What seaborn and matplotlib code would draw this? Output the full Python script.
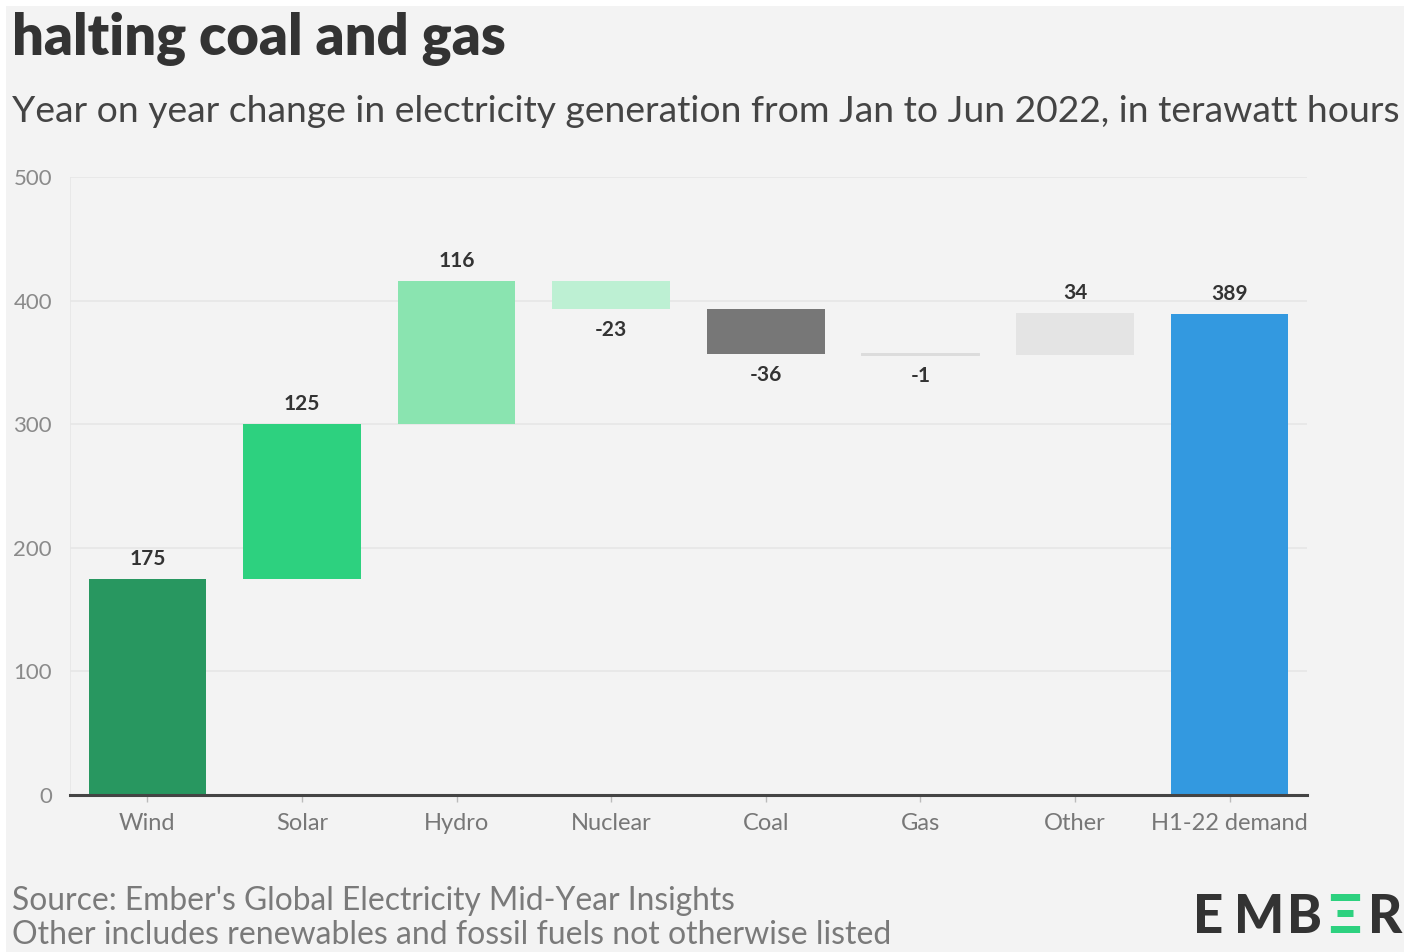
import matplotlib
matplotlib.use("Agg")
import matplotlib.pyplot as plt
import seaborn as sns
import pandas as pd
import numpy as np
from matplotlib.patches import Rectangle

categories = ["Wind", "Solar", "Hydro", "Nuclear", "Coal", "Gas", "Other", "H1-22 demand"]
changes = [175, 125, 116, -23, -36, -1, 34, 389]
is_total = [False, False, False, False, False, False, False, True]
bar_colors = ["#289760", "#2dd17f", "#8ae4b0", "#bdf0d3", "#777777", "#dcdcdc", "#e4e4e4", "#3399e0"]
y_ticks = [0, 100, 200, 300, 400, 500]

title = "halting coal and gas"
subtitle = "Year on year change in electricity generation from Jan to Jun 2022, in terawatt hours"
source1 = "Source: Ember's Global Electricity Mid-Year Insights"
source2 = "Other includes renewables and fossil fuels not otherwise listed"

# waterfall geometry from the values
bottoms, heights = [], []
run = 0
for v, tot in zip(changes, is_total):
    if tot:
        bottoms.append(0); heights.append(v)
    else:
        if v >= 0:
            bottoms.append(run); heights.append(v)
        else:
            bottoms.append(run + v); heights.append(-v)
        run += v
df = pd.DataFrame({"cat": categories, "height": heights, "bottom": bottoms})

W, H = 1404, 952
BG = "#f3f3f3"
sns.set_theme(style="white")
plt.rcParams["font.family"] = ["Lato", "DejaVu Sans"]

fig = plt.figure(figsize=(W / 100, H / 100), dpi=100, facecolor="white")
fig.patches.append(Rectangle((6 / W, 0), 1 - 6 / W, 1 - 6 / H, transform=fig.transFigure,
                             facecolor=BG, edgecolor="none", zorder=-10))

ax = fig.add_axes([70 / W, 1 - 795 / H, (1307 - 70) / W, (795 - 177) / H])
ax.set_facecolor(BG)

sns.barplot(data=df, x="cat", y="height", bottom=df["bottom"].values, order=categories,
            color=bar_colors[0], width=0.76, saturation=1, ax=ax, zorder=3, linewidth=0)
for p, c, v in zip(ax.patches, bar_colors, changes):
    p.set_facecolor(c)
    if abs(v) < 3:
        p.set_edgecolor(c)
        p.set_linewidth(1.4)
    else:
        p.set_edgecolor("none")

ax.set_ylim(0, 500)
ax.set_xlim(-0.5, 7.5)
ax.set_yticks(y_ticks)
ax.set_xlabel("")
ax.set_ylabel("")
for s in ["top", "right", "left"]:
    ax.spines[s].set_visible(False)
ax.spines["bottom"].set_color("#444444")
ax.spines["bottom"].set_linewidth(2.2)
ax.spines["bottom"].set_zorder(5)
ax.grid(axis="y", color="#e6e6e6", linewidth=1.2, zorder=0)
ax.axvline(-0.5, color="#e6e6e6", linewidth=1.2, zorder=0)
ax.tick_params(axis="y", length=0, pad=13, labelsize=16, labelcolor="#8a8a8a")
ax.tick_params(axis="x", length=5, width=1, color="#bbbbbb", pad=8, labelsize=17,
               labelcolor="#777777", bottom=True)

# value labels
for i, (v, b, h) in enumerate(zip(changes, bottoms, heights)):
    if v >= 0:
        ax.annotate(f"{v}", (i, b + h), xytext=(0, 7), textcoords="offset points",
                    ha="center", va="bottom", fontsize=15, fontweight="bold", color="#333333")
    else:
        ax.annotate(f"{v}", (i, b), xytext=(0, -8), textcoords="offset points",
                    ha="center", va="top", fontsize=15, fontweight="bold", color="#333333")

def fx(x):
    return x / W
def fy(y):
    return 1 - y / H

renderer = fig.canvas.get_renderer()
def fit(t, target):
    w = t.get_window_extent(renderer).width
    t.set_fontsize(t.get_fontsize() * target / w)

t1 = fig.text(fx(12), fy(55), title, fontsize=40, fontweight="heavy", color="#333333", va="baseline")
fit(t1, 493)
t2 = fig.text(fx(12), fy(122), subtitle, fontsize=26, color="#444444", va="baseline")
fit(t2, 1384)
t3 = fig.text(fx(12), fy(910), source1, fontsize=20, color="#7a7a7a", va="baseline")
fit(t3, 723)
t4 = fig.text(fx(12), fy(944), source2, fontsize=20, color="#7a7a7a", va="baseline")
fit(t4, 883)

# EMBER logo as text
logo = [("E", 1193, "#333333"), ("M", 1234, "#333333"), ("B", 1287, "#333333"),
        ("\u039e", 1328, "#2dd17f"), ("R", 1368, "#333333")]
for ch, x, col in logo:
    fig.text(fx(x), fy(933), ch, fontsize=38, fontweight="black", color=col, va="baseline",
             family=["Lato", "DejaVu Sans"])

fig.savefig("out.png", dpi=100, facecolor=fig.get_facecolor())
